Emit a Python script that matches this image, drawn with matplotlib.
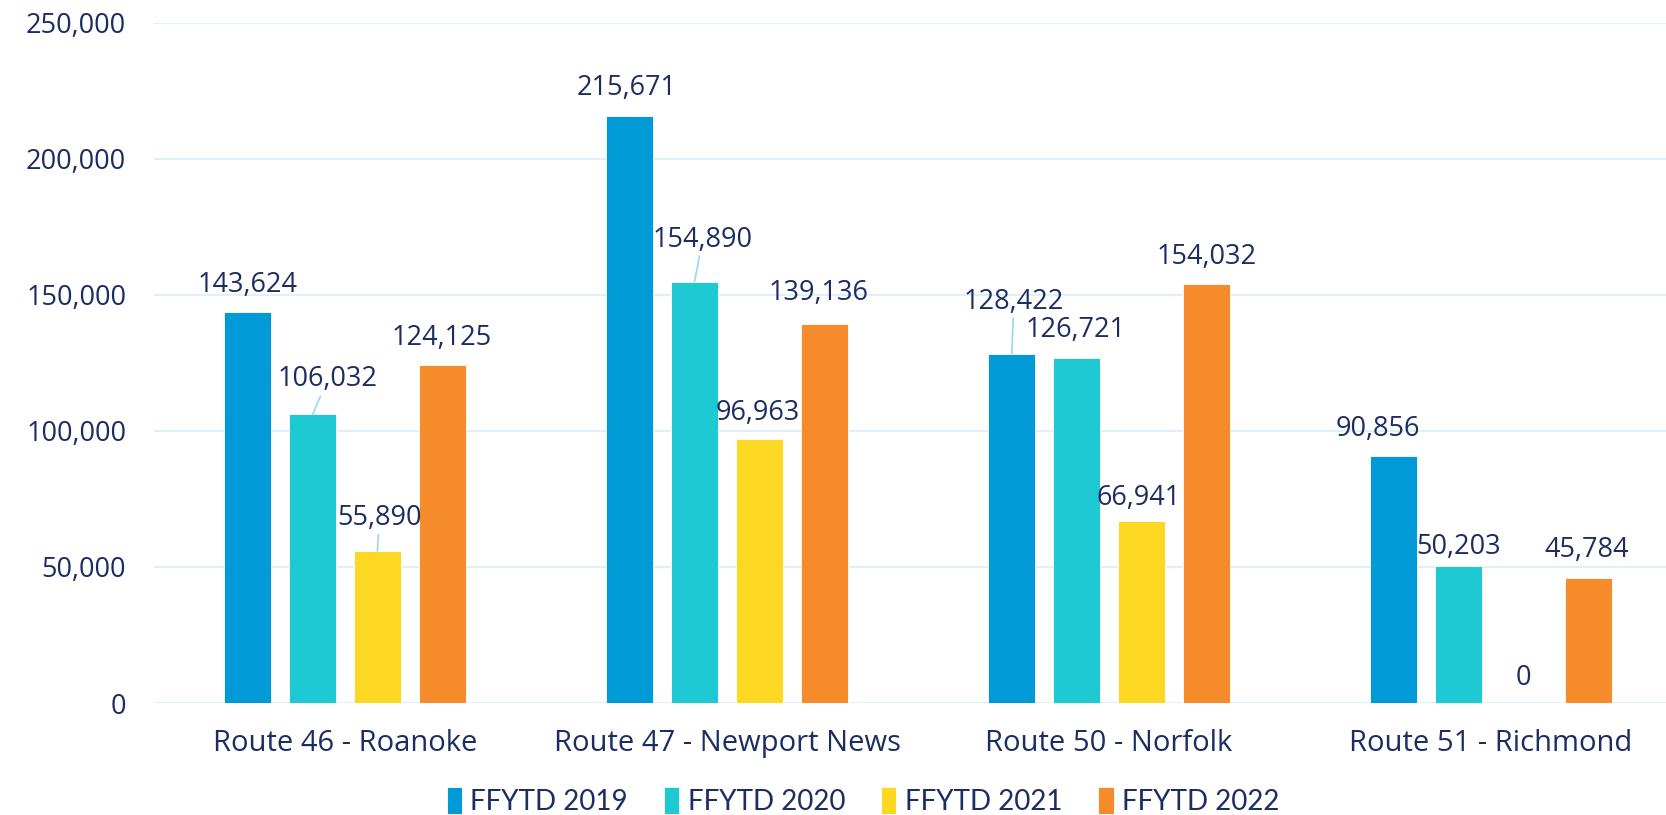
import matplotlib
matplotlib.use("Agg")
import matplotlib.pyplot as plt
import numpy as np

categories = ["Route 46 - Roanoke", "Route 47 - Newport News", "Route 50 - Norfolk", "Route 51 - Richmond"]
series_names = ["FFYTD 2019", "FFYTD 2020", "FFYTD 2021", "FFYTD 2022"]
fy2019 = [143624, 215671, 128422, 90856]
fy2020 = [106032, 154890, 126721, 50203]
fy2021 = [55890, 96963, 66941, 0]
fy2022 = [124125, 139136, 154032, 45784]
yticks = [0, 50000, 100000, 150000, 200000, 250000]

series = [fy2019, fy2020, fy2021, fy2022]
colors = ["#009BD6", "#1FC9D3", "#FDD823", "#F68B2C"]
text_color = "#1B2D61"
grid_color = "#DCF0F8"
leader_color = "#94D8F2"

# label offsets in pixels (dx, dy) and whether a leader line is drawn
offsets = [
    [(0, 27, False), (-3, 28, False), (2, 52, True), (-16, 27, False)],
    [(15, 35, True), (8, 42, True), (-1, 28, False), (0, 19, False)],
    [(2, 33, True), (-2, 26, False), (-3, 23, False), (0, 25, False)],
    [(0, 27, False), (-6, 31, False), (0, 27, False), (-2, 28, False)],
]

FONT = ["Open Sans", "DejaVu Sans"]
plt.rcParams["font.family"] = FONT
fs = 19.5

W, H = 1666, 815
fig = plt.figure(figsize=(W / 100, H / 100), dpi=100)
left_px, bottom_px, top_px = 154, 703, 22.7
slot = 382
ax = fig.add_axes([left_px / W, (H - bottom_px) / H, 4 * slot / W, (bottom_px - top_px) / H])

x = np.arange(len(categories))
bw = 0.1224
step = 0.1696
for i, (vals, c) in enumerate(zip(series, colors)):
    xs = x + (i - 1.5) * step
    ax.bar(xs, vals, width=bw, color=c, edgecolor="white", linewidth=0.6,
           label=series_names[i], zorder=3)
    for j, (xx, v) in enumerate(zip(xs, vals)):
        dx, dy, lead = offsets[i][j]
        kw = {}
        if lead:
            kw["arrowprops"] = dict(arrowstyle="-", color=leader_color, lw=1.2,
                                    shrinkA=0, shrinkB=0)
        ax.annotate(f"{v:,}", xy=(xx, v), xytext=(dx, dy), textcoords="offset pixels",
                    ha="center", va="center", fontsize=fs, color=text_color,
                    annotation_clip=False, zorder=4, **kw)

ax.set_xlim(-0.5, len(categories) - 0.5)
ax.set_ylim(0, 250000)
ax.set_yticks(yticks)
ax.set_yticklabels([f"{t:,}" for t in yticks])
ax.set_xticks(x)
ax.set_xticklabels(categories)
ax.tick_params(axis="y", length=0, pad=20, labelsize=fs, labelcolor=text_color)
ax.tick_params(axis="x", length=0, pad=19, labelsize=21, labelcolor=text_color)
ax.grid(axis="y", color=grid_color, lw=1.3, zorder=0)
for s in ax.spines.values():
    s.set_visible(False)
ax.axhline(0, color=grid_color, lw=1.5, zorder=2)

leg = fig.legend(loc="center", bbox_to_anchor=(0.518, (H - 801) / H), ncol=4, frameon=False,
                 handlelength=0.55, handleheight=1.1, handletextpad=0.3,
                 columnspacing=1.3, labelcolor=text_color,
                 prop={"family": ["Liberation Sans Narrow", "Lato", "DejaVu Sans"], "size": 20})

fig.savefig("out.png", dpi=100)
